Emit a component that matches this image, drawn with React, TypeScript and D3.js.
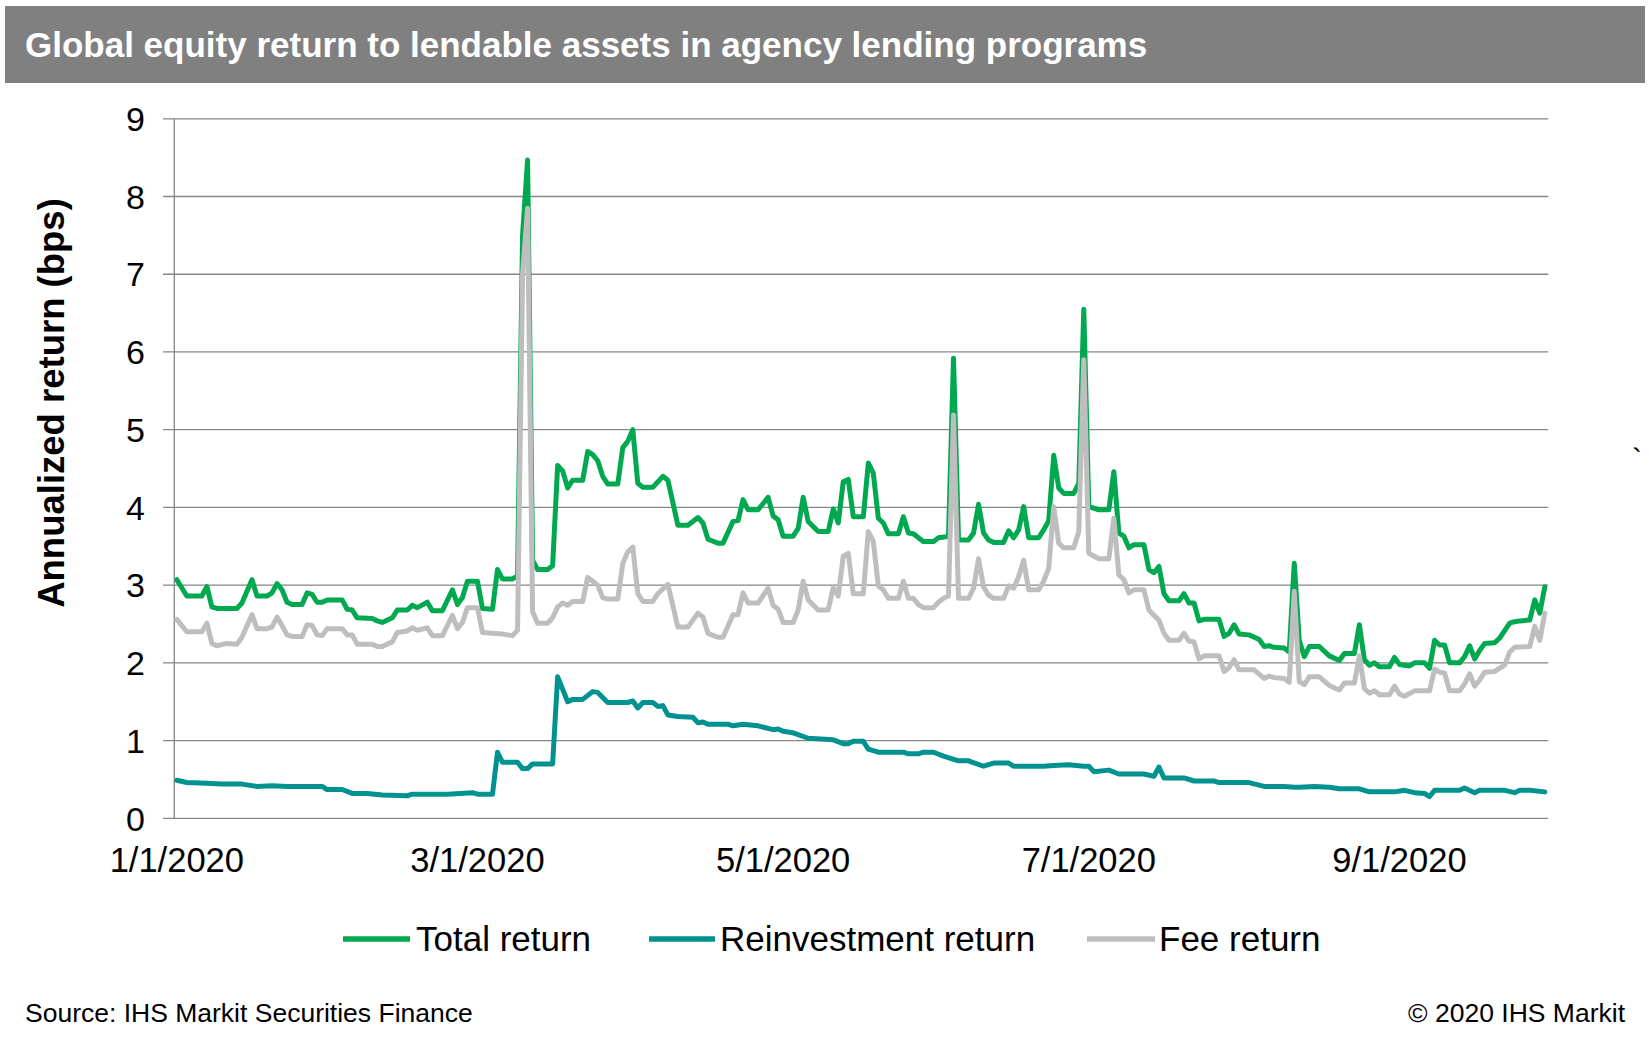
import React from "react";
import * as d3 from "d3";

const YEAR = 2020;

// Total return (bps), [month/day, value]
const totalReturn: [string, number][] = [
  ["1/1", 3.07], ["1/3", 2.86], ["1/6", 2.86], ["1/7", 2.98], ["1/8", 2.72], ["1/9", 2.7],
  ["1/13", 2.7], ["1/14", 2.77], ["1/16", 3.07], ["1/17", 2.86], ["1/19", 2.86], ["1/20", 2.9],
  ["1/21", 3.02], ["1/22", 2.94], ["1/23", 2.78], ["1/24", 2.75], ["1/26", 2.75], ["1/27", 2.9],
  ["1/28", 2.88], ["1/29", 2.78], ["1/30", 2.78], ["1/31", 2.81], ["2/3", 2.81], ["2/4", 2.69],
  ["2/5", 2.68], ["2/6", 2.58], ["2/9", 2.57], ["2/10", 2.54], ["2/11", 2.52], ["2/13", 2.58],
  ["2/14", 2.68], ["2/16", 2.68], ["2/17", 2.74], ["2/18", 2.71], ["2/20", 2.78], ["2/21", 2.67],
  ["2/23", 2.67], ["2/25", 2.94], ["2/26", 2.75], ["2/27", 2.84], ["2/28", 3.05], ["3/1", 3.05],
  ["3/2", 2.7], ["3/4", 2.69], ["3/5", 3.2], ["3/6", 3.08], ["3/8", 3.08], ["3/9", 3.12],
  ["3/10", 7.5], ["3/11", 8.47], ["3/12", 3.32], ["3/13", 3.2], ["3/15", 3.2], ["3/16", 3.25],
  ["3/17", 4.54], ["3/18", 4.47], ["3/19", 4.25], ["3/20", 4.35], ["3/22", 4.35], ["3/23", 4.72],
  ["3/24", 4.68], ["3/25", 4.6], ["3/26", 4.4], ["3/27", 4.3], ["3/29", 4.3], ["3/30", 4.77],
  ["3/31", 4.85], ["4/1", 5.0], ["4/2", 4.31], ["4/3", 4.26], ["4/5", 4.26], ["4/7", 4.4],
  ["4/8", 4.35], ["4/10", 3.77], ["4/12", 3.77], ["4/14", 3.87], ["4/15", 3.8], ["4/16", 3.59],
  ["4/18", 3.54], ["4/19", 3.54], ["4/21", 3.82], ["4/22", 3.83], ["4/23", 4.1], ["4/24", 3.97],
  ["4/26", 3.97], ["4/28", 4.13], ["4/29", 3.89], ["4/30", 3.84], ["5/1", 3.63], ["5/3", 3.63],
  ["5/4", 3.73], ["5/5", 4.13], ["5/6", 3.82], ["5/8", 3.69], ["5/10", 3.69], ["5/11", 3.98],
  ["5/12", 3.8], ["5/13", 4.33], ["5/14", 4.36], ["5/15", 3.88], ["5/17", 3.88], ["5/18", 4.57],
  ["5/19", 4.44], ["5/20", 3.86], ["5/21", 3.8], ["5/22", 3.66], ["5/24", 3.66], ["5/25", 3.88],
  ["5/26", 3.67], ["5/27", 3.66], ["5/28", 3.61], ["5/29", 3.56], ["5/31", 3.56], ["6/1", 3.61],
  ["6/2", 3.62], ["6/3", 3.63], ["6/4", 5.92], ["6/5", 3.58], ["6/7", 3.58], ["6/8", 3.67],
  ["6/9", 4.04], ["6/10", 3.67], ["6/11", 3.58], ["6/12", 3.55], ["6/14", 3.55], ["6/15", 3.7],
  ["6/16", 3.61], ["6/17", 3.71], ["6/18", 4.01], ["6/19", 3.61], ["6/21", 3.61], ["6/22", 3.71],
  ["6/23", 3.83], ["6/24", 4.67], ["6/25", 4.25], ["6/26", 4.18], ["6/28", 4.18], ["6/29", 4.31],
  ["6/30", 6.55], ["7/1", 4.01], ["7/3", 3.97], ["7/5", 3.97], ["7/6", 4.46], ["7/7", 3.67],
  ["7/8", 3.63], ["7/9", 3.48], ["7/10", 3.52], ["7/12", 3.52], ["7/13", 3.2], ["7/14", 3.16],
  ["7/15", 3.24], ["7/16", 2.89], ["7/17", 2.8], ["7/19", 2.8], ["7/20", 2.89], ["7/21", 2.77],
  ["7/22", 2.77], ["7/23", 2.54], ["7/24", 2.56], ["7/27", 2.56], ["7/28", 2.34], ["7/29", 2.38],
  ["7/30", 2.49], ["7/31", 2.37], ["8/2", 2.36], ["8/4", 2.3], ["8/5", 2.21], ["8/6", 2.22],
  ["8/7", 2.2], ["8/9", 2.19], ["8/10", 2.14], ["8/11", 3.28], ["8/12", 2.29], ["8/13", 2.08],
  ["8/14", 2.21], ["8/16", 2.21], ["8/18", 2.09], ["8/20", 2.03], ["8/21", 2.12], ["8/23", 2.12],
  ["8/24", 2.49], ["8/25", 2.04], ["8/26", 1.97], ["8/27", 2.0], ["8/28", 1.95], ["8/30", 1.95],
  ["8/31", 2.07], ["9/1", 1.98], ["9/3", 1.96], ["9/4", 2.0], ["9/6", 2.0], ["9/7", 1.93],
  ["9/8", 2.29], ["9/9", 2.23], ["9/10", 2.23], ["9/11", 2.0], ["9/13", 2.0], ["9/14", 2.08],
  ["9/15", 2.22], ["9/16", 2.05], ["9/17", 2.16], ["9/18", 2.25], ["9/20", 2.26], ["9/21", 2.32],
  ["9/23", 2.51], ["9/24", 2.53], ["9/25", 2.54], ["9/27", 2.55], ["9/28", 2.81], ["9/29", 2.64],
  ["9/30", 2.98],
];

// Reinvestment return (bps)
const reinvestmentReturn: [string, number][] = [
  ["1/1", 0.49], ["1/3", 0.46], ["1/7", 0.45], ["1/10", 0.44], ["1/14", 0.44], ["1/17", 0.41],
  ["1/20", 0.42], ["1/23", 0.41], ["1/30", 0.41], ["1/31", 0.37], ["2/3", 0.37], ["2/5", 0.32],
  ["2/8", 0.32], ["2/11", 0.3], ["2/16", 0.29], ["2/17", 0.31], ["2/24", 0.31], ["2/29", 0.33],
  ["3/1", 0.31], ["3/4", 0.31], ["3/5", 0.85], ["3/6", 0.72], ["3/9", 0.72], ["3/10", 0.64],
  ["3/11", 0.64], ["3/12", 0.7], ["3/16", 0.7], ["3/17", 1.82], ["3/19", 1.5], ["3/20", 1.53],
  ["3/22", 1.53], ["3/24", 1.63], ["3/25", 1.62], ["3/27", 1.49], ["3/31", 1.49], ["4/1", 1.51],
  ["4/2", 1.42], ["4/3", 1.49], ["4/5", 1.49], ["4/6", 1.44], ["4/7", 1.45], ["4/8", 1.33],
  ["4/10", 1.31], ["4/13", 1.3], ["4/14", 1.23], ["4/15", 1.24], ["4/16", 1.21], ["4/20", 1.21],
  ["4/21", 1.19], ["4/23", 1.21], ["4/26", 1.19], ["4/29", 1.14], ["4/30", 1.15], ["5/1", 1.12],
  ["5/3", 1.1], ["5/6", 1.03], ["5/11", 1.01], ["5/13", 0.96], ["5/14", 0.96], ["5/15", 0.99],
  ["5/17", 0.99], ["5/18", 0.89], ["5/20", 0.85], ["5/25", 0.85], ["5/26", 0.83], ["5/28", 0.83],
  ["5/29", 0.85], ["5/31", 0.85], ["6/2", 0.8], ["6/5", 0.74], ["6/7", 0.74], ["6/10", 0.67],
  ["6/12", 0.71], ["6/15", 0.71], ["6/16", 0.67], ["6/22", 0.67], ["6/24", 0.68], ["6/27", 0.69],
  ["6/30", 0.67], ["7/1", 0.67], ["7/2", 0.6], ["7/5", 0.62], ["7/7", 0.57], ["7/12", 0.57],
  ["7/14", 0.54], ["7/15", 0.66], ["7/16", 0.52], ["7/20", 0.52], ["7/22", 0.48], ["7/26", 0.48],
  ["7/27", 0.46], ["8/2", 0.46], ["8/5", 0.41], ["8/9", 0.41], ["8/11", 0.4], ["8/12", 0.4],
  ["8/15", 0.41], ["8/18", 0.4], ["8/20", 0.38], ["8/24", 0.38], ["8/26", 0.34], ["8/31", 0.34],
  ["9/2", 0.36], ["9/4", 0.33], ["9/6", 0.32], ["9/7", 0.28], ["9/8", 0.36], ["9/13", 0.36],
  ["9/14", 0.39], ["9/16", 0.33], ["9/17", 0.36], ["9/22", 0.36], ["9/24", 0.33], ["9/25", 0.36],
  ["9/27", 0.36], ["9/30", 0.34],
];

// Fee return (bps)
const feeReturn: [string, number][] = [
  ["1/1", 2.56], ["1/3", 2.4], ["1/6", 2.4], ["1/7", 2.51], ["1/8", 2.25], ["1/9", 2.22],
  ["1/11", 2.25], ["1/13", 2.24], ["1/14", 2.33], ["1/16", 2.62], ["1/17", 2.44], ["1/19", 2.44],
  ["1/20", 2.46], ["1/21", 2.59], ["1/22", 2.48], ["1/23", 2.36], ["1/24", 2.34], ["1/26", 2.34],
  ["1/27", 2.49], ["1/28", 2.48], ["1/29", 2.36], ["1/30", 2.35], ["1/31", 2.44], ["2/3", 2.44],
  ["2/4", 2.36], ["2/5", 2.36], ["2/6", 2.24], ["2/9", 2.24], ["2/10", 2.21], ["2/11", 2.21],
  ["2/13", 2.27], ["2/14", 2.39], ["2/16", 2.41], ["2/17", 2.45], ["2/18", 2.42], ["2/20", 2.45],
  ["2/21", 2.35], ["2/23", 2.35], ["2/25", 2.61], ["2/26", 2.44], ["2/27", 2.52], ["2/28", 2.71],
  ["3/1", 2.71], ["3/2", 2.39], ["3/4", 2.38], ["3/6", 2.37], ["3/8", 2.35], ["3/9", 2.42],
  ["3/10", 7.0], ["3/11", 7.85], ["3/12", 2.66], ["3/13", 2.51], ["3/15", 2.51], ["3/16", 2.58],
  ["3/17", 2.72], ["3/18", 2.77], ["3/19", 2.74], ["3/20", 2.79], ["3/22", 2.79], ["3/23", 3.1],
  ["3/24", 3.05], ["3/25", 3.0], ["3/26", 2.84], ["3/27", 2.82], ["3/29", 2.82], ["3/30", 3.28],
  ["3/31", 3.43], ["4/1", 3.49], ["4/2", 2.89], ["4/3", 2.79], ["4/5", 2.79], ["4/6", 2.89],
  ["4/8", 3.01], ["4/10", 2.46], ["4/12", 2.46], ["4/14", 2.64], ["4/15", 2.59], ["4/16", 2.38],
  ["4/18", 2.33], ["4/19", 2.33], ["4/21", 2.62], ["4/22", 2.62], ["4/23", 2.9], ["4/24", 2.77],
  ["4/26", 2.77], ["4/28", 2.96], ["4/29", 2.74], ["4/30", 2.69], ["5/1", 2.52], ["5/3", 2.52],
  ["5/4", 2.68], ["5/5", 3.05], ["5/6", 2.81], ["5/8", 2.68], ["5/10", 2.68], ["5/11", 2.97],
  ["5/12", 2.86], ["5/13", 3.37], ["5/14", 3.41], ["5/15", 2.89], ["5/17", 2.89], ["5/18", 3.69],
  ["5/19", 3.56], ["5/20", 2.99], ["5/21", 2.94], ["5/22", 2.83], ["5/24", 2.83], ["5/25", 3.05],
  ["5/26", 2.83], ["5/27", 2.83], ["5/28", 2.75], ["5/29", 2.71], ["5/31", 2.71], ["6/1", 2.78],
  ["6/2", 2.83], ["6/3", 2.86], ["6/4", 5.19], ["6/5", 2.83], ["6/7", 2.83], ["6/8", 2.96],
  ["6/9", 3.34], ["6/10", 2.98], ["6/11", 2.87], ["6/12", 2.83], ["6/14", 2.83], ["6/15", 2.99],
  ["6/16", 2.96], ["6/17", 3.11], ["6/18", 3.32], ["6/19", 2.94], ["6/21", 2.94], ["6/22", 3.05],
  ["6/23", 3.22], ["6/24", 4.01], ["6/25", 3.54], ["6/26", 3.48], ["6/28", 3.48], ["6/29", 3.69],
  ["6/30", 5.9], ["7/1", 3.41], ["7/3", 3.34], ["7/5", 3.34], ["7/6", 3.86], ["7/7", 3.13],
  ["7/8", 3.07], ["7/9", 2.9], ["7/10", 2.94], ["7/12", 2.94], ["7/13", 2.68], ["7/14", 2.61],
  ["7/15", 2.55], ["7/16", 2.38], ["7/17", 2.29], ["7/19", 2.29], ["7/20", 2.38], ["7/21", 2.28],
  ["7/22", 2.27], ["7/23", 2.05], ["7/24", 2.09], ["7/27", 2.09], ["7/28", 1.89], ["7/29", 1.94],
  ["7/30", 2.04], ["7/31", 1.91], ["8/3", 1.91], ["8/5", 1.8], ["8/6", 1.83], ["8/7", 1.81],
  ["8/9", 1.8], ["8/10", 1.75], ["8/11", 2.92], ["8/12", 1.76], ["8/13", 1.72], ["8/14", 1.82],
  ["8/16", 1.82], ["8/18", 1.71], ["8/20", 1.65], ["8/21", 1.74], ["8/23", 1.74], ["8/24", 2.09],
  ["8/25", 1.67], ["8/26", 1.61], ["8/27", 1.64], ["8/28", 1.59], ["8/30", 1.59], ["8/31", 1.7],
  ["9/1", 1.6], ["9/2", 1.57], ["9/4", 1.64], ["9/7", 1.64], ["9/8", 1.92], ["9/9", 1.88],
  ["9/10", 1.87], ["9/11", 1.64], ["9/13", 1.64], ["9/14", 1.73], ["9/15", 1.86], ["9/16", 1.7],
  ["9/17", 1.78], ["9/18", 1.88], ["9/20", 1.89], ["9/22", 1.97], ["9/23", 2.14], ["9/24", 2.2],
  ["9/27", 2.21], ["9/28", 2.47], ["9/29", 2.29], ["9/30", 2.64],
];

const xTickLabels = ["1/1/2020", "3/1/2020", "5/1/2020", "7/1/2020", "9/1/2020"];
const yTicks = [0, 1, 2, 3, 4, 5, 6, 7, 8, 9];

const seriesNames = ["Total return", "Reinvestment return", "Fee return"];
const seriesColors = ["#00A850", "#00928F", "#BEBEBE"];

const FONT = "'Liberation Sans', Arial, Helvetica, sans-serif";

function parseMD(md: string): Date {
  const [m, d] = md.split("/").map(Number);
  return new Date(YEAR, m - 1, d, 12);
}
function parseFull(s: string): Date {
  const [m, d, y] = s.split("/").map(Number);
  return new Date(y, m - 1, d, 12);
}

export default function App() {
  const W = 1649;
  const H = 1045;
  const plotLeft = 174.3;
  const plotRight = 1547.3;
  const plotTop = 118.8;
  const plotBottom = 818.3;

  const x = d3
    .scaleTime()
    .domain([new Date(YEAR, 0, 1), new Date(YEAR, 9, 1)])
    .range([plotLeft, plotRight]);
  const y = d3.scaleLinear().domain([0, 9]).range([plotBottom, plotTop]);

  const line = d3
    .line<[string, number]>()
    .x((d) => x(parseMD(d[0])))
    .y((d) => y(d[1]));

  const series = [totalReturn, reinvestmentReturn, feeReturn];

  const legendItems = [
    { lx1: 343, lx2: 410, tx: 416 },
    { lx1: 649, lx2: 715, tx: 720 },
    { lx1: 1087, lx2: 1155, tx: 1159 },
  ];

  return (
    <div style={{ position: "absolute", left: 0, top: 0 }}>
      <svg width={W} height={H} style={{ display: "block", background: "#fff" }}>
        {/* Title bar */}
        <rect x={5} y={6} width={1640} height={77} fill="#808080" />
        <text x={25} y={57} fill="#fff" fontFamily={FONT} fontWeight="bold" fontSize={35}>
          Global equity return to lendable assets in agency lending programs
        </text>

        {/* Gridlines and y ticks */}
        {yTicks.map((t) => (
          <g key={t}>
            <line x1={163} x2={plotRight + 1} y1={y(t)} y2={y(t)} stroke="#868686" strokeWidth={1.3} />
            <text
              x={145}
              y={y(t) + 12.2}
              textAnchor="end"
              fontFamily={FONT}
              fontSize={34}
              fill="#000"
            >
              {t}
            </text>
          </g>
        ))}
        <line x1={plotLeft} x2={plotLeft} y1={plotTop} y2={plotBottom} stroke="#868686" strokeWidth={1.3} />

        {/* X tick labels */}
        {xTickLabels.map((s) => (
          <text
            key={s}
            x={x(parseFull(s))}
            y={872}
            textAnchor="middle"
            fontFamily={FONT}
            fontSize={34.5}
            fill="#000"
          >
            {s}
          </text>
        ))}

        {/* Y axis title */}
        <text
          transform={`translate(64, 403) rotate(-90)`}
          textAnchor="middle"
          fontFamily={FONT}
          fontWeight="bold"
          fontSize={36.5}
          fill="#000"
        >
          Annualized return (bps)
        </text>

        {/* Lines */}
        {series.map((s, i) => (
          <path
            key={i}
            d={line(s) || ""}
            fill="none"
            stroke={seriesColors[i]}
            strokeWidth={5}
            strokeLinejoin="round"
            strokeLinecap="round"
          />
        ))}

        {/* Legend */}
        {seriesNames.map((n, i) => (
          <g key={n}>
            <line
              x1={legendItems[i].lx1}
              x2={legendItems[i].lx2}
              y1={939}
              y2={939}
              stroke={seriesColors[i]}
              strokeWidth={5.5}
            />
            <text x={legendItems[i].tx} y={951} fontFamily={FONT} fontSize={35} fill="#000">
              {n}
            </text>
          </g>
        ))}

        {/* stray mark */}
        <text x={1632} y={469} fontFamily={FONT} fontSize={30} fill="#000">
          `
        </text>

        {/* Footer */}
        <text x={25} y={1022} fontFamily={FONT} fontSize={26.5} fill="#000">
          Source: IHS Markit Securities Finance
        </text>
        <text x={1625} y={1022} textAnchor="end" fontFamily={FONT} fontSize={26.5} fill="#000">
          © 2020 IHS Markit
        </text>
      </svg>
    </div>
  );
}
